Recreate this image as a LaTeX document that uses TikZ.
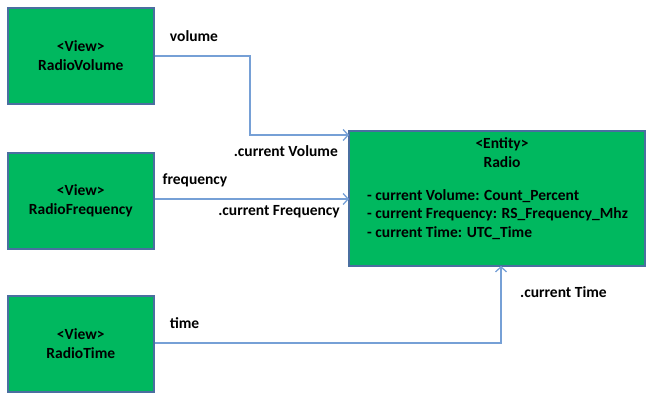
\documentclass[tikz,border=0pt]{standalone}
\usepackage{fontspec}
\setmainfont{Carlito}
\usetikzlibrary{arrows.meta}
\definecolor{boxgreen}{HTML}{00B85F}
\definecolor{boxedge}{HTML}{4A6FA0}
\definecolor{wire}{HTML}{76A0D6}
\tikzset{
  viewbox/.style={draw=boxedge, line width=1.6pt, fill=boxgreen, minimum width=146pt, minimum height=96pt, inner sep=0pt, align=center, font=\bfseries\fontsize{15.5}{18.5}\selectfont},
  wirelink/.style={draw=wire, line width=1.3pt, -{Straight Barb[length=5pt,width=11pt,line width=1.3pt]}},
  lbl/.style={font=\bfseries\fontsize{15.5}{18}\selectfont, inner sep=0pt},
}
\begin{document}
\begin{tikzpicture}[x=1pt,y=-1pt]
\useasboundingbox (0,0) rectangle (647,395);
% views
\node[viewbox, anchor=north west] (vol) at (7,7) {<View>\\RadioVolume};
\node[viewbox, anchor=north west] (freq) at (7,152) {<View>\\RadioFrequency};
\node[viewbox, anchor=north west] (time) at (7,295) {<View>\\RadioTime};
% entity
\draw[draw=boxedge, line width=1.6pt, fill=boxgreen] (349,131) rectangle (645,266);
\node[draw=none, minimum width=296pt, minimum height=135pt, anchor=north west] (radio) at (349,131) {};
\node[lbl] (ent) at (502,144) {<Entity>};
\node[lbl] (rname) at (502,162) {Radio};
\node[lbl, anchor=west] (a1) at (367,196) {- current Volume: Count\_Percent};
\node[lbl, anchor=west] (a2) at (367,214) {- current Frequency: RS\_Frequency\_Mhz};
\node[lbl, anchor=west] (a3) at (367,233) {- current Time: UTC\_Time};
% connectors
\coordinate (vin) at (radio.north west |- 0,135);
\coordinate (fin) at (radio.north west |- 0,199);
\coordinate (tin) at (501,266);
\draw[wirelink] (vol.east |- 0,56) -| (250,135) -- (vin);
\draw[wirelink] (freq.east |- 0,199) -- (fin);
\draw[wirelink] (time.east |- 0,343) -| (tin);
% labels
\node[lbl] (lv) at (194,36) {volume};
\node[lbl, anchor=east] (lcv) at (338,151) {.current Volume};
\node[lbl] (lf) at (195,180) {frequency};
\node[lbl, anchor=east] (lcf) at (340,212) {.current Frequency};
\node[lbl] (lt) at (184.5,323) {time};
\node[lbl, anchor=west] (lct) at (520,292) {.current Time};
\end{tikzpicture}
\end{document}
